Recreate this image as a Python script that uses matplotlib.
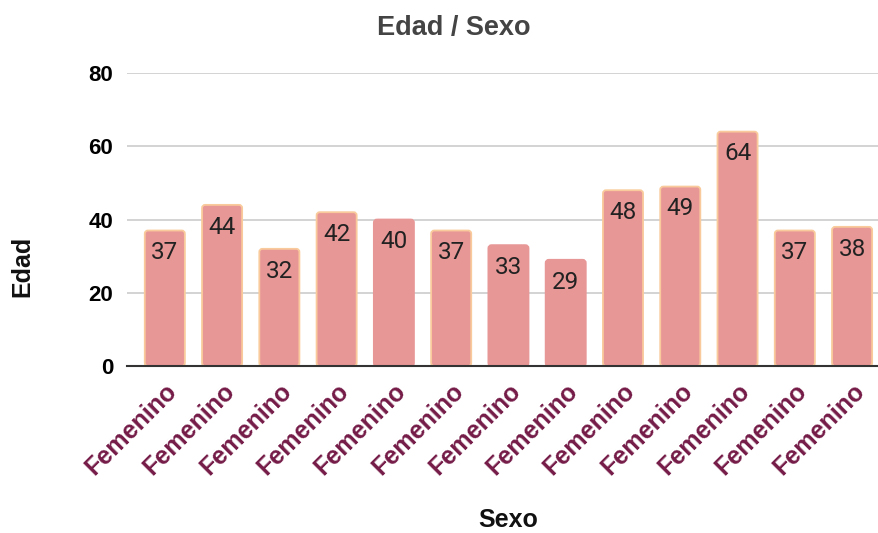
import matplotlib
matplotlib.use("Agg")
import matplotlib.pyplot as plt
from matplotlib.patches import FancyBboxPatch

# data
categories = ["Femenino"] * 13
edades = [37, 44, 32, 42, 40, 37, 33, 29, 48, 49, 64, 37, 38]
outlined = [True, True, True, True, False, True, False, False,
            True, True, True, True, True]
yticks = [0, 20, 40, 60, 80]

BAR = "#e89797"
EDGE = "#f9cb9c"
TICK_X = "#741b47"

plt.rcParams["font.family"] = ["Liberation Sans", "DejaVu Sans"]

fig = plt.figure(figsize=(8.79, 5.33), dpi=100)
ax = fig.add_axes([0.1445, 0.3133, 0.8555, 0.5497])

x = list(range(len(edades)))
bars = ax.bar(x, edades, width=0.70, color=BAR)
ax.set_xlim(-0.66, 12.47)
ax.set_ylim(0, 80)

# swap plain rectangles for slightly rounded ones
px_x = 57.25      # pixels per x unit
px_y = 293 / 80   # pixels per y unit
for rect, edged in zip(bars, outlined):
    rect.set_visible(False)
    fb = FancyBboxPatch((rect.get_x(), 0), rect.get_width(), rect.get_height(),
                        boxstyle="round,pad=0,rounding_size=0.055",
                        mutation_aspect=px_x / px_y,
                        facecolor=BAR,
                        edgecolor=EDGE if edged else BAR,
                        linewidth=1.3, zorder=2)
    ax.add_patch(fb)

for xi, v in zip(x, edades):
    ax.annotate(str(v), (xi, v), xytext=(0, -16), textcoords="offset points",
                ha="center", va="center", fontsize=17.5, color="#222222",
                family=["Roboto", "DejaVu Sans"], zorder=3)

ax.set_yticks(yticks)
ax.set_yticklabels([str(t) for t in yticks], fontsize=16, fontweight="bold")
ax.set_xticks(x)
ax.set_xticklabels(categories, rotation=45, ha="right", rotation_mode="anchor",
                   fontsize=18, fontweight="bold", color=TICK_X)
ax.tick_params(axis="both", length=0)
ax.tick_params(axis="y", pad=10)
ax.tick_params(axis="x", pad=9)

ax.grid(axis="y", color="#cccccc", linewidth=1.2, zorder=0)
ax.set_axisbelow(True)
for s in ["top", "right", "left"]:
    ax.spines[s].set_visible(False)
ax.spines["bottom"].set_color("#333333")
ax.spines["bottom"].set_linewidth(1.5)
ax.spines["bottom"].set_zorder(3)

fig.text(0.5165, 0.947, "Edad / Sexo", ha="center", va="center",
         fontsize=19.5, fontweight="bold", color="#444444")
fig.text(0.578, 0.024, "Sexo", ha="center", va="center",
         fontsize=18, fontweight="bold", color="#111111")
fig.text(0.025, 0.501, "Edad", ha="center", va="center", rotation=90,
         fontsize=18, fontweight="bold", color="#111111")

fig.savefig("out.png", dpi=100)
